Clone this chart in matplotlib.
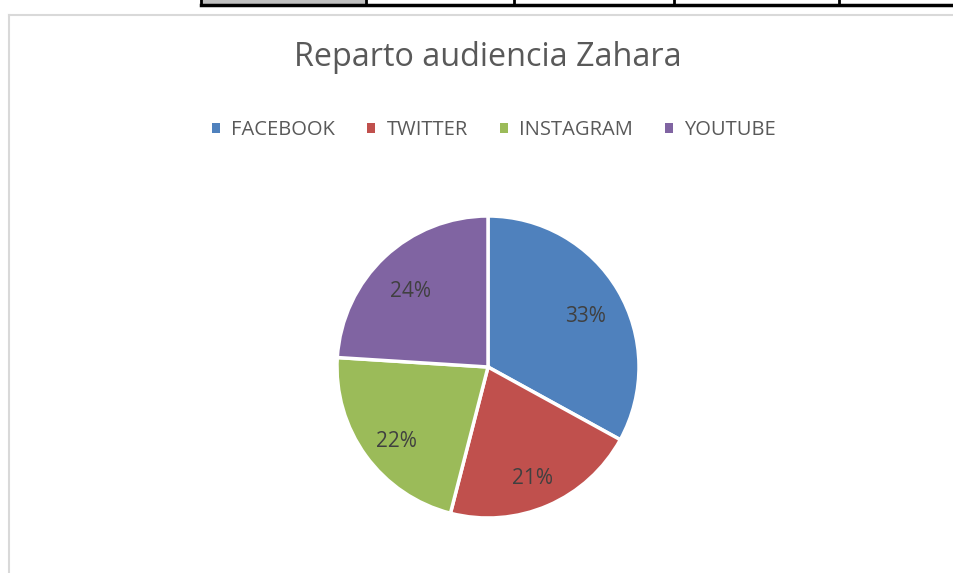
import matplotlib
matplotlib.use("Agg")
import matplotlib.pyplot as plt
from matplotlib.patches import Rectangle
from matplotlib.lines import Line2D

categories = ["FACEBOOK", "TWITTER", "INSTAGRAM", "YOUTUBE"]
values = [33, 21, 22, 24]
colors = ["#4F81BD", "#C0504D", "#9BBB59", "#8064A2"]
title = "Reparto audiencia Zahara"

W, H = 954, 573
fig = plt.figure(figsize=(W / 100, H / 100), dpi=100)
fig.patch.set_facecolor("white")
FONT = ["Open Sans", "DejaVu Sans"]

def fx(x):
    return x / W

def fy(y):
    return 1 - y / H

# spreadsheet strip on top
fig.patches.append(Rectangle((fx(201), fy(5)), fx(165), 5 / H, transform=fig.transFigure,
                             facecolor="#c0c0c0", edgecolor="none"))
fig.lines.append(Line2D([fx(201), 1], [fy(5), fy(5)], transform=fig.transFigure, color="black", lw=2.5))
for xv in [201, 366, 514, 674, 839]:
    fig.lines.append(Line2D([fx(xv), fx(xv)], [1, fy(5)], transform=fig.transFigure, color="black", lw=2))
# chart border
fig.lines.append(Line2D([fx(9.5), 1], [fy(14.5), fy(14.5)], transform=fig.transFigure, color="#d9d9d9", lw=1.5))
fig.lines.append(Line2D([fx(9.5), fx(9.5)], [fy(14.5), 0], transform=fig.transFigure, color="#d9d9d9", lw=1.5))

cx, cy, r = 488, 367, 151
ax = fig.add_axes([fx(cx - r), fy(cy + r), 2 * r / W, 2 * r / H])
wedges, texts, autotexts = ax.pie(values, colors=colors, startangle=90, counterclock=False,
                                  autopct="%1.0f%%", pctdistance=0.75, radius=1,
                                  wedgeprops=dict(edgecolor="white", linewidth=2.5),
                                  textprops=dict(color="#404040", fontsize=15, family=FONT))
for t in autotexts:
    px, py = t.get_position()
    t.set_position((px, py - 0.05))
ax.set_xlim(-1, 1)
ax.set_ylim(-1, 1)
ax.set_aspect("auto")
ax.axis("off")

fig.text(fx(488), fy(57), title, ha="center", va="center", fontsize=23.3, color="#595959", family=FONT)

leg = fig.legend(handles=[Rectangle((0, 0), 1, 1, facecolor=c, edgecolor="none") for c in colors],
                 labels=categories, loc="center", bbox_to_anchor=(fx(494), fy(130)), ncol=4,
                 frameon=False, handlelength=0.4, handleheight=0.4, handletextpad=0.55,
                 columnspacing=1.6, prop=dict(family=FONT, size=14.5))
for t in leg.get_texts():
    t.set_color("#595959")

fig.savefig("out.png", dpi=100, facecolor="white")
